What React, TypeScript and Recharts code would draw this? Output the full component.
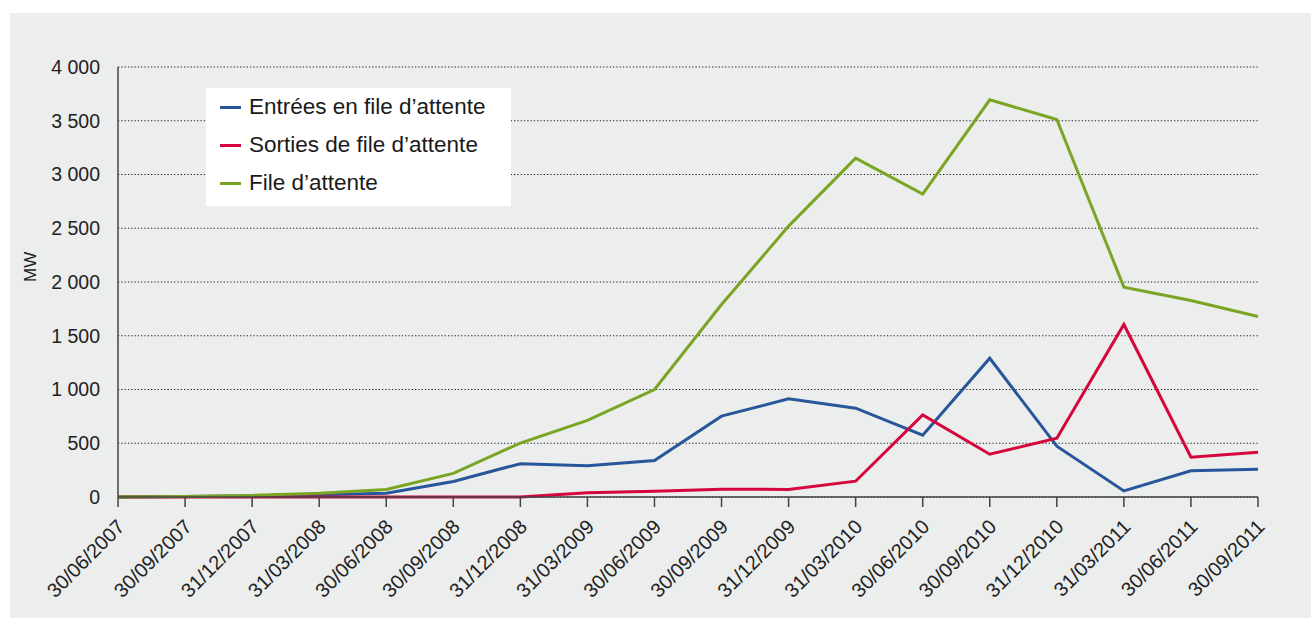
import React from "react";
import {
  LineChart,
  Line,
  XAxis,
  YAxis,
  CartesianGrid,
} from "recharts";

const dates = [
  "30/06/2007", "30/09/2007", "31/12/2007", "31/03/2008", "30/06/2008",
  "30/09/2008", "31/12/2008", "31/03/2009", "30/06/2009", "30/09/2009",
  "31/12/2009", "31/03/2010", "30/06/2010", "30/09/2010", "31/12/2010",
  "31/03/2011", "30/06/2011", "30/09/2011",
];
const entrees = [0, 5, 12, 20, 35, 145, 310, 290, 340, 752, 913, 826, 575, 1291, 473, 57, 244, 259];
const sorties = [0, 0, 0, 0, 0, 0, 0, 40, 54, 73, 70, 147, 764, 398, 547, 1605, 370, 417];
const fileAttente = [0, 5, 15, 35, 70, 220, 502, 713, 1000, 1790, 2520, 3152, 2817, 3695, 3512, 1952, 1828, 1679];
const yTicks = [0, 500, 1000, 1500, 2000, 2500, 3000, 3500, 4000];

const SERIES = [
  { key: "entrees", name: "Entrées en file d’attente", color: "#27579a" },
  { key: "sorties", name: "Sorties de file d’attente", color: "#d5063b" },
  { key: "file", name: "File d’attente", color: "#7aa522" },
];

const data = dates.map((d, i) => ({
  date: d,
  entrees: entrees[i],
  sorties: sorties[i],
  file: fileAttente[i],
}));

const FONT = "'Liberation Sans', Arial, sans-serif";

const fmt = (v: number) => String(v).replace(/\B(?=(\d{3})+(?!\d))/g, " ");

function DateTick({ x, y, payload }: any) {
  return (
    <g transform={`translate(${x + 3},${y + 16})`}>
      <text
        transform="rotate(-45)"
        textAnchor="end"
        dy="0.35em"
        fill="#222"
        fontSize={20}
        fontFamily={FONT}
      >
        {payload.value}
      </text>
    </g>
  );
}

// legend box drawn by hand, same order as the series
function LegendBox() {
  return (
    <div
      style={{
        position: "absolute",
        left: 206,
        top: 88,
        background: "#fff",
        width: 305,
        height: 118,
        boxSizing: "border-box",
        padding: "0 0 0 14px",
        fontFamily: FONT,
        fontSize: 22.5,
        color: "#1a1a1a",
      }}
    >
      {SERIES.map((s) => (
        <div key={s.key} style={{ display: "flex", alignItems: "center", height: 38 }}>
          <span
            style={{
              display: "inline-block",
              width: 21,
              height: 3,
              background: s.color,
              marginRight: 8,
            }}
          />
          <span>{s.name}</span>
        </div>
      ))}
    </div>
  );
}

export default function App() {
  return (
    <div style={{ position: "absolute", left: 0, top: 0, width: 1311, height: 619, background: "#fff" }}>
      <div
        style={{
          position: "absolute",
          left: 10,
          top: 13,
          width: 1301,
          height: 605,
          background: "#eceded",
        }}
      />
      <div style={{ position: "absolute", left: 0, top: 0 }}>
        <LineChart
          width={1311}
          height={619}
          data={data}
          margin={{ top: 67, right: 53, bottom: 0, left: 0 }}
        >
          <CartesianGrid
            vertical={false}
            stroke="#222"
            strokeDasharray="1.3 2"
          />
          <XAxis
            dataKey="date"
            interval={0}
            height={122}
            tickSize={10}
            tickMargin={0}
            axisLine={{ stroke: "#444", strokeWidth: 1.5 }}
            tickLine={{ stroke: "#444", strokeWidth: 1.5 }}
            tick={<DateTick />}
          />
          <YAxis
            width={118}
            domain={[0, 4000]}
            ticks={yTicks}
            tickFormatter={fmt}
            tickLine={false}
            tickSize={0}
            tickMargin={18}
            axisLine={{ stroke: "#444", strokeWidth: 1.5 }}
            tick={{ fill: "#222", fontSize: 19.5, fontFamily: FONT }}
            label={{
              value: "MW",
              angle: -90,
              position: "insideLeft",
              offset: 30,
              fill: "#222",
              fontSize: 17,
              fontFamily: FONT,
            }}
          />
          {SERIES.map((s) => (
            <Line
              key={s.key}
              type="linear"
              dataKey={s.key}
              name={s.name}
              stroke={s.color}
              strokeWidth={3}
              dot={false}
              activeDot={false}
              isAnimationActive={false}
            />
          ))}
        </LineChart>
      </div>
      <LegendBox />
    </div>
  );
}
